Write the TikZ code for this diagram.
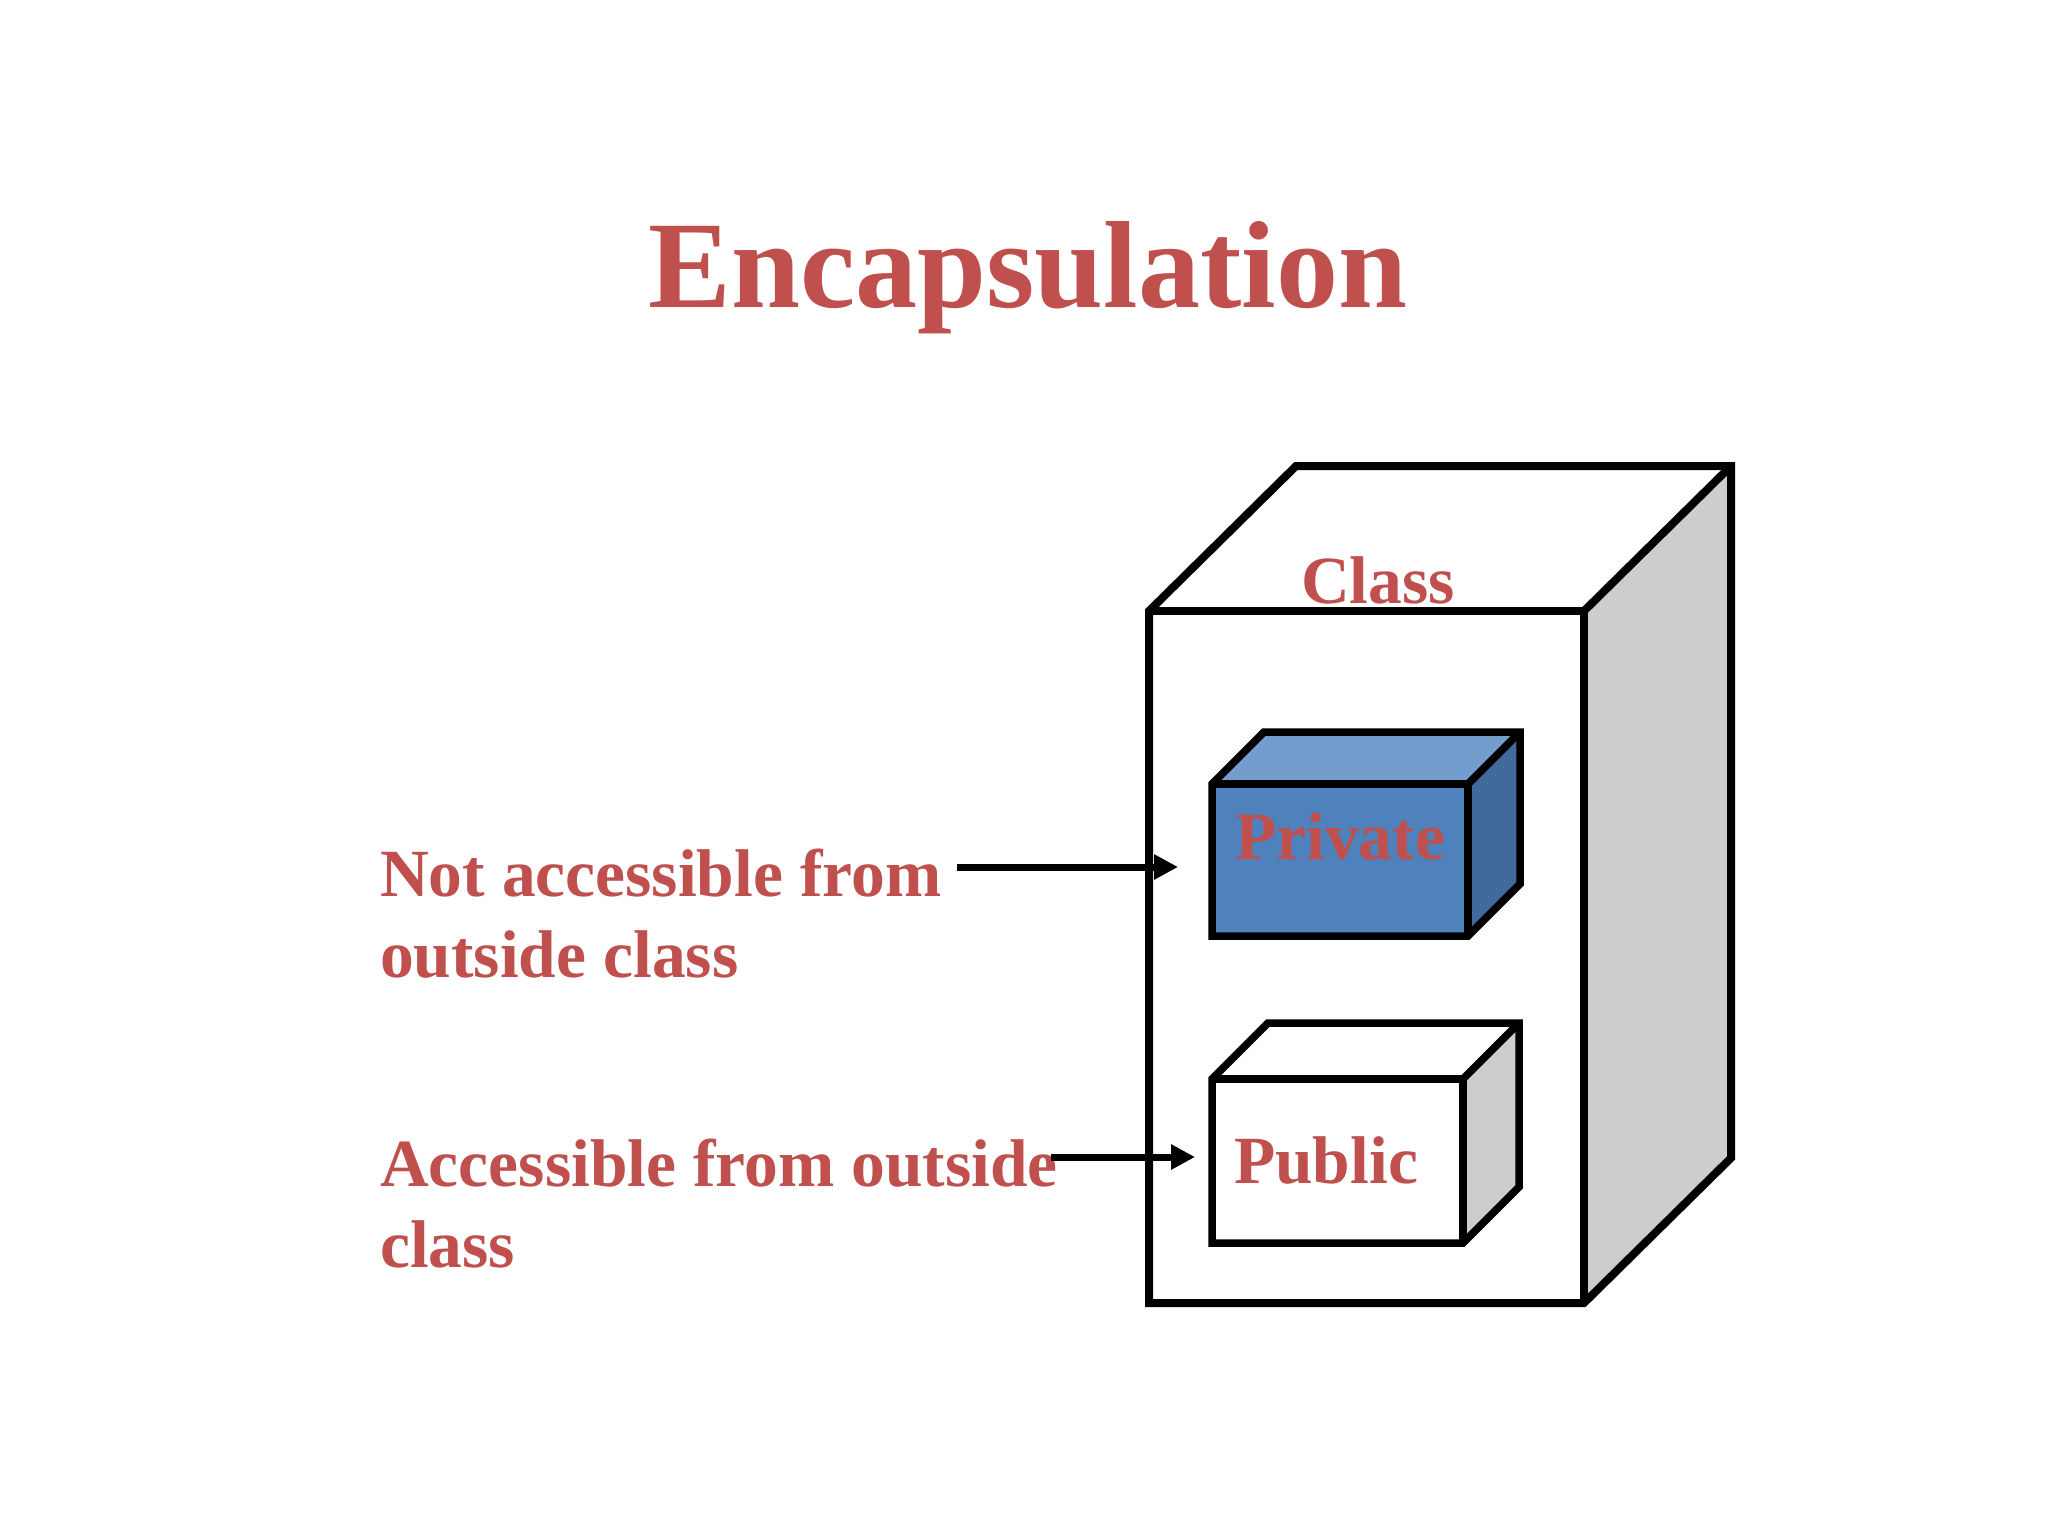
\documentclass[tikz,border=0pt]{standalone}
\usepackage{fontspec}
\setmainfont{Liberation Serif}
\usetikzlibrary{arrows.meta}
\definecolor{txtred}{HTML}{C0504D}
\definecolor{privfront}{HTML}{4F81BD}
\definecolor{privtop}{HTML}{739DCC}
\definecolor{privside}{HTML}{41699A}
\definecolor{sidegray}{HTML}{CDCCCF}
\begin{document}
\begin{tikzpicture}[x=1pt,y=-1pt,
  face/.style={inner sep=0pt, outer sep=0pt},
  edge/.style={draw=black, line width=8pt, line join=miter, line cap=butt},
  smalledge/.style={edge, line width=7.5pt},
  lbl/.style={text=txtred, font=\bfseries\fontsize{67.5}{81}\selectfont, inner sep=0pt, anchor=base west},
  arr/.style={draw=black, line width=7pt, -{Triangle[length=24pt,width=24pt]}}]
\useasboundingbox[fill=white] (0,0) rectangle (2048,1536);

% title
\node[text=txtred, font=\bfseries\fontsize{124}{140}\selectfont, inner sep=0pt, anchor=base] (title) at (1028,307) {Encapsulation};

% big class box
\node[face, fill=white, minimum width=435pt, minimum height=692pt] (cls) at (1366.5,957) {};
\fill[sidegray] (cls.north east) -- ++(147,-145) -- ([shift={(147,-145)}]cls.south east) -- (cls.south east) -- cycle;
\draw[edge] (cls.north west) -- ++(147,-145) -- ([shift={(147,-145)}]cls.north east) -- ([shift={(147,-145)}]cls.south east) -- (cls.south east) -- (cls.south west) -- cycle;
\draw[edge] (cls.north west) -- (cls.north east) -- (cls.south east);
\draw[edge] (cls.north east) -- ++(147,-145);
\node[text=txtred, font=\bfseries\fontsize{67.5}{81}\selectfont, inner sep=0pt, anchor=base] (clslbl) at (1378,603) {Class};

% private box
\node[face, fill=privfront, minimum width=256pt, minimum height=152pt] (priv) at (1340,860) {};
\fill[privtop] (priv.north west) -- ++(52,-52) -- ([shift={(52,-52)}]priv.north east) -- (priv.north east) -- cycle;
\fill[privside] (priv.north east) -- ++(52,-52) -- ([shift={(52,-52)}]priv.south east) -- (priv.south east) -- cycle;
\draw[smalledge] (priv.north west) -- ++(52,-52) -- ([shift={(52,-52)}]priv.north east) -- ([shift={(52,-52)}]priv.south east) -- (priv.south east) -- (priv.south west) -- cycle;
\draw[smalledge] (priv.north west) -- (priv.north east) -- (priv.south east);
\draw[smalledge] (priv.north east) -- ++(52,-52);
\node[text=txtred, font=\bfseries\fontsize{67.5}{81}\selectfont, inner sep=0pt, anchor=base] (privlbl) at (1340,859) {Private};

% public box
\node[face, fill=white, minimum width=251pt, minimum height=164pt] (pub) at (1337.5,1161) {};
\fill[sidegray] (pub.north east) -- ++(56,-56) -- ([shift={(56,-56)}]pub.south east) -- (pub.south east) -- cycle;
\draw[smalledge] (pub.north west) -- ++(56,-56) -- ([shift={(56,-56)}]pub.north east) -- ([shift={(56,-56)}]pub.south east) -- (pub.south east) -- (pub.south west) -- cycle;
\draw[smalledge] (pub.north west) -- (pub.north east) -- (pub.south east);
\draw[smalledge] (pub.north east) -- ++(56,-56);
\node[lbl] (publbl) at (1234,1183) {Public};

% left labels
\node[lbl] (na1) at (380,896) {Not accessible from};
\node[lbl] (na2) at (380,977) {outside class};
\node[lbl] (ac1) at (380,1186) {Accessible from outside};
\node[lbl] (ac2) at (380,1267) {class};

% arrows
\coordinate (a1s) at (957,867);
\coordinate (a1e) at (1178,867);
\coordinate (a2s) at (1051,1157);
\coordinate (a2e) at (1195,1157);
\draw[arr] (a1s) -- (a1e);
\draw[arr] (a2s) -- (a2e);
\end{tikzpicture}
\end{document}
